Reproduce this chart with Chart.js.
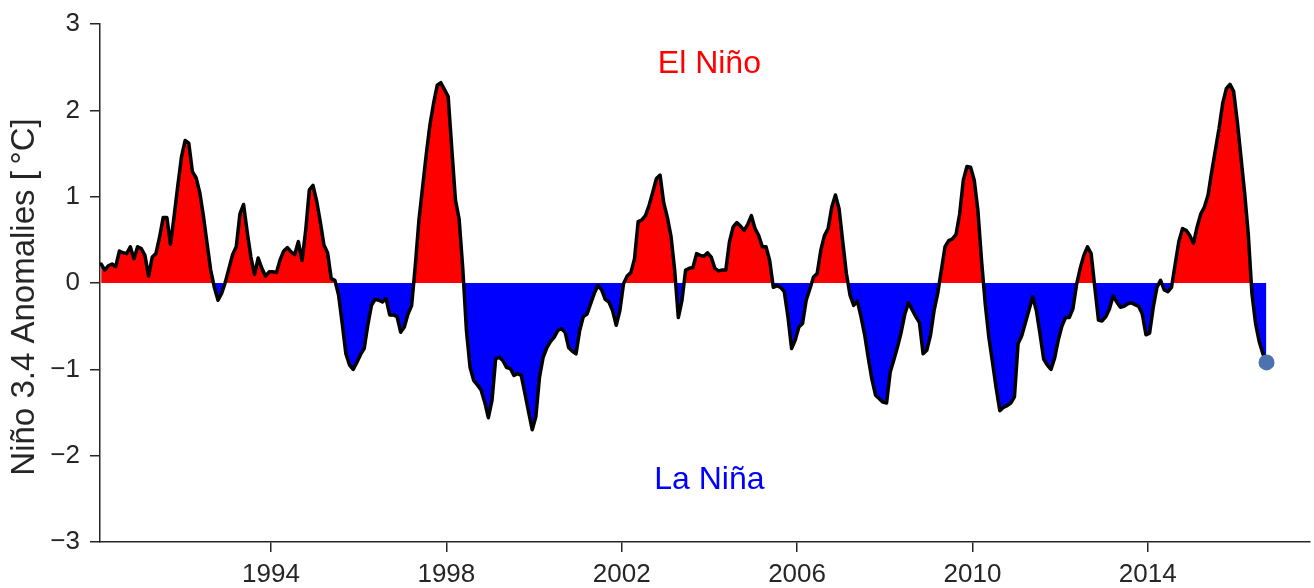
<!DOCTYPE html>
<html>
<head>
<meta charset="utf-8">
<script src="https://cdn.jsdelivr.net/npm/chart.js@4.4.0/dist/chart.umd.min.js"></script>
<style>
  html, body { margin: 0; padding: 0; background: #fff; overflow: hidden; }
  #wrap { width: 1314px; height: 588px; position: relative; }
</style>
</head>
<body>
<div id="wrap"><canvas id="enso"></canvas></div>
<script>
// monthly Nino 3.4 anomalies, Feb 1990 .. Sep 2016
const firstYear = 1990;
const firstMonth = 2;
const anomalies = [
  0.22, 0.15, 0.20, 0.22, 0.19, 0.37, 0.35, 0.34, 0.42, 0.28, 0.42,             // 1990
  0.40, 0.32, 0.08, 0.30, 0.34, 0.53, 0.76, 0.76, 0.45, 0.78, 1.13, 1.46,       // 1991
  1.65, 1.62, 1.29, 1.22, 1.05, 0.78, 0.46, 0.15, -0.05, -0.20, -0.12, 0.01,    // 1992
  0.17, 0.33, 0.42, 0.80, 0.91, 0.59, 0.30, 0.10, 0.29, 0.17, 0.08, 0.13,       // 1993
  0.13, 0.12, 0.27, 0.37, 0.41, 0.36, 0.33, 0.48, 0.26, 0.61, 1.08, 1.13,       // 1994
  0.95, 0.71, 0.44, 0.35, 0.05, 0.03, -0.14, -0.47, -0.82, -0.95, -1.00, -0.92, // 1995
  -0.83, -0.76, -0.49, -0.26, -0.19, -0.20, -0.22, -0.18, -0.37, -0.37, -0.39, -0.57, // 1996
  -0.51, -0.36, -0.26, 0.20, 0.73, 1.11, 1.49, 1.83, 2.08, 2.29, 2.32, 2.24,    // 1997
  2.16, 1.55, 0.96, 0.74, 0.17, -0.55, -0.98, -1.13, -1.18, -1.24, -1.38, -1.56, // 1998
  -1.36, -0.88, -0.86, -0.90, -0.98, -0.99, -1.07, -1.05, -1.07, -1.28, -1.49, -1.70, // 1999
  -1.55, -1.09, -0.86, -0.75, -0.68, -0.63, -0.55, -0.53, -0.57, -0.75, -0.79, -0.82, // 2000
  -0.55, -0.39, -0.36, -0.24, -0.12, -0.03, -0.08, -0.19, -0.22, -0.32, -0.49, -0.32, // 2001
  -0.01, 0.08, 0.12, 0.28, 0.71, 0.73, 0.78, 0.90, 1.05, 1.21, 1.25, 0.93,      // 2002
  0.76, 0.54, 0.15, -0.40, -0.20, 0.15, 0.17, 0.18, 0.34, 0.32, 0.31, 0.35,     // 2003
  0.30, 0.17, 0.14, 0.15, 0.15, 0.48, 0.65, 0.70, 0.66, 0.61, 0.68, 0.78,       // 2004
  0.63, 0.55, 0.42, 0.42, 0.26, -0.05, -0.03, -0.05, -0.10, -0.39, -0.76, -0.66, // 2005
  -0.51, -0.47, -0.20, -0.07, 0.07, 0.11, 0.38, 0.55, 0.63, 0.88, 1.02, 0.86,   // 2006
  0.48, 0.11, -0.14, -0.26, -0.21, -0.39, -0.60, -0.87, -1.12, -1.30, -1.34, -1.38, // 2007
  -1.39, -1.03, -0.89, -0.74, -0.57, -0.36, -0.23, -0.31, -0.39, -0.46, -0.82, -0.78, // 2008
  -0.61, -0.32, -0.12, 0.15, 0.42, 0.49, 0.51, 0.56, 0.80, 1.19, 1.35, 1.34,    // 2009
  1.19, 0.84, 0.26, -0.24, -0.63, -0.92, -1.22, -1.48, -1.44, -1.42, -1.39, -1.32, // 2010
  -0.70, -0.61, -0.46, -0.31, -0.16, -0.32, -0.59, -0.88, -0.95, -1.00, -0.87, -0.66, // 2011
  -0.50, -0.40, -0.40, -0.30, -0.02, 0.17, 0.32, 0.42, 0.34, -0.05, -0.43, -0.44, // 2012
  -0.39, -0.30, -0.15, -0.22, -0.28, -0.27, -0.24, -0.23, -0.25, -0.27, -0.36, -0.60, // 2013
  -0.58, -0.28, -0.05, 0.03, -0.08, -0.10, -0.05, 0.22, 0.48, 0.63, 0.61, 0.55, // 2014
  0.46, 0.65, 0.80, 0.88, 1.02, 1.29, 1.54, 1.79, 2.08, 2.25, 2.30, 2.22,       // 2015
  1.87, 1.46, 1.05, 0.57, -0.12, -0.47, -0.68, -0.82, -0.92                     // 2016
];
const tickYears = [1994, 1998, 2002, 2006, 2010, 2014];
const yTickValues = [-3, -2, -1, 0, 1, 2, 3];

const INK = "#262626";
const FONT = "'Liberation Sans', Arial, sans-serif";

// mid-month time stamps as decimal years
const points = anomalies.map((v, i) => ({
  x: firstYear + (firstMonth - 1 + i) / 12 + 1 / 24,
  y: v,
}));
const lastPoint = points[points.length - 1];

// axis title + the two phase labels
const labelsPlugin = {
  id: "ensoLabels",
  afterDraw(chart) {
    const ctx = chart.ctx;
    const xs = chart.scales.x;
    const ys = chart.scales.y;
    ctx.save();
    ctx.font = "32px " + FONT;
    ctx.textAlign = "center";
    ctx.textBaseline = "middle";
    ctx.fillStyle = "#ff0000";
    ctx.fillText("El Niño", xs.getPixelForValue(2004), ys.getPixelForValue(2.53));
    ctx.fillStyle = "#0000ff";
    ctx.fillText("La Niña", xs.getPixelForValue(2004), ys.getPixelForValue(-2.28));

    ctx.translate(34, 297);
    ctx.rotate(-Math.PI / 2);
    ctx.font = "33px " + FONT;
    ctx.textBaseline = "alphabetic";
    ctx.fillStyle = INK;
    ctx.fillText("Niño 3.4 Anomalies [\u2009°C]", 0, 0);
    ctx.restore();
  },
};

new Chart(document.getElementById("enso"), {
  type: "line",
  data: {
    datasets: [
      {
        data: [lastPoint],
        showLine: false,
        pointRadius: 8,
        pointBackgroundColor: "#4c72b0",
        pointBorderWidth: 0,
        order: 0,
      },
      {
        data: points,
        borderColor: "#000",
        borderWidth: 3.5,
        borderJoinStyle: "round",
        borderCapStyle: "round",
        pointRadius: 0,
        tension: 0,
        fill: { target: "origin", above: "#ff0000", below: "#0000ff" },
        order: 1,
      },
    ],
  },
  options: {
    responsive: true,
    maintainAspectRatio: false,
    animation: false,
    layout: { autoPadding: false, padding: { top: 24, right: 4, left: 0, bottom: 0 } },
    plugins: {
      legend: { display: false },
      tooltip: { enabled: false },
    },
    scales: {
      x: {
        type: "linear",
        min: 1990.1,
        max: 2017.7,
        afterFit: (s) => {
          s.height = 46;
          s.paddingLeft = 0;
          s.paddingRight = 0;
        },
        afterBuildTicks: (s) => { s.ticks = tickYears.map((v) => ({ value: v })); },
        border: { display: true, color: INK, width: 1.5 },
        grid: { drawOnChartArea: false, drawTicks: true, tickLength: 10, color: INK, lineWidth: 1.5 },
        ticks: {
          color: INK,
          font: { family: FONT, size: 26 },
          padding: 7,
          maxRotation: 0,
          callback: (v) => String(v),
        },
      },
      y: {
        min: -3,
        max: 3,
        afterFit: (s) => {
          s.width = 100;
          s.paddingTop = 0;
          s.paddingBottom = 0;
        },
        afterBuildTicks: (s) => { s.ticks = yTickValues.map((v) => ({ value: v })); },
        border: { display: true, color: INK, width: 1.5 },
        grid: { drawOnChartArea: false, drawTicks: true, tickLength: 10, color: INK, lineWidth: 1.5 },
        ticks: {
          color: INK,
          font: { family: FONT, size: 26 },
          padding: 10,
          callback: (v) => (v < 0 ? "\u2212" + Math.abs(v) : String(v)),
        },
      },
    },
  },
  plugins: [labelsPlugin],
});
</script>
</body>
</html>
